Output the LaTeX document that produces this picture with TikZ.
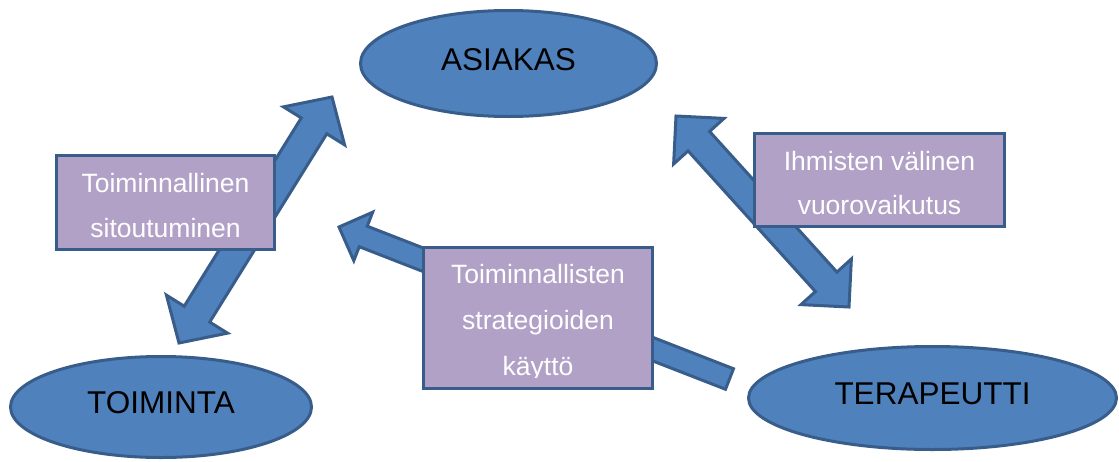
\documentclass[tikz,border=0pt]{standalone}
\usepackage{fontspec}
\setmainfont{Liberation Sans}
\usetikzlibrary{calc,shapes.geometric}
\definecolor{fillblue}{HTML}{4F81BD}
\definecolor{edgeblue}{HTML}{385D8A}
\definecolor{boxpurple}{HTML}{B2A1C7}
\tikzset{
  blockarr/.style={fill=fillblue, draw=edgeblue, line width=3pt, line join=miter},
  oval/.style={ellipse, fill=fillblue, draw=edgeblue, line width=3pt, inner sep=0pt,
    text depth=9pt, font=\fontsize{31.5}{38}\selectfont, text=black},
  labelbox/.style={rectangle, fill=boxpurple, draw=edgeblue, line width=3.5pt, inner sep=0pt},
  boxtext/.style={text=white, align=center, inner sep=0pt, anchor=north},
}
% double block arrow: #1 end A, #2 end B, #3 shaft half width, #4 head half width, #5 head length
\newcommand{\dblblock}[5]{%
  \coordinate (#1h) at ($(#1)!#5!(#2)$);
  \coordinate (#2h) at ($(#2)!#5!(#1)$);
  \filldraw[blockarr] (#1) -- ($(#1h)!#4!90:(#2)$) -- ($(#1h)!#3!90:(#2)$)
    -- ($(#2h)!#3!-90:(#1)$) -- ($(#2h)!#4!-90:(#1)$) -- (#2)
    -- ($(#2h)!#4!90:(#1)$) -- ($(#2h)!#3!90:(#1)$)
    -- ($(#1h)!#3!-90:(#2)$) -- ($(#1h)!#4!-90:(#2)$) -- cycle;
}
% single block arrow: #1 tip, #2 tail, #3 shaft half width, #4 head half width, #5 head length
\newcommand{\oneblock}[5]{%
  \coordinate (#1h) at ($(#1)!#5!(#2)$);
  \filldraw[blockarr] (#1) -- ($(#1h)!#4!90:(#2)$) -- ($(#1h)!#3!90:(#2)$)
    -- ($(#2)!#3!-90:(#1)$) -- ($(#2)!#3!90:(#1)$)
    -- ($(#1h)!#3!-90:(#2)$) -- ($(#1h)!#4!-90:(#2)$) -- cycle;
}
\begin{document}
\begin{tikzpicture}[x=1pt, y=-1pt]
\useasboundingbox (0,0) rectangle (1119,461);
% arrow end points
\coordinate (la) at (332,97);
\coordinate (lb) at (179,343);
\coordinate (ra) at (676,116);
\coordinate (rb) at (849,307);
\coordinate (ma) at (339,227);
\coordinate (mb) at (729.5,379);
\dblblock{la}{lb}{15pt}{36pt}{34pt}
\dblblock{ra}{rb}{14.5pt}{34pt}{34pt}
\oneblock{ma}{mb}{11pt}{26pt}{26pt}
% ellipses
\node[oval, minimum width=296pt, minimum height=106pt] (asiakas) at (508.5,63.5) {ASIAKAS};
\node[oval, minimum width=301pt, minimum height=101pt] (toiminta) at (161,407) {TOIMINTA};
\node[oval, minimum width=368pt, minimum height=103pt] (terapeutti) at (932.5,398) {TERAPEUTTI};
% label boxes
\node[labelbox, minimum width=218pt, minimum height=94pt] (box1) at (165.5,202.5) {};
\node[labelbox, minimum width=250pt, minimum height=93pt] (box2) at (879.5,180) {};
\node[labelbox, minimum width=229pt, minimum height=141pt] (box3) at (538,318) {};
\node[boxtext, font=\fontsize{26.5}{45}\selectfont] (t1) at (165.5,170)
  {\rule{0pt}{22pt}Toiminnallinen\\sitoutuminen};
\node[boxtext, font=\fontsize{26.5}{44}\selectfont] (t2) at (879.5,148)
  {\rule{0pt}{22pt}Ihmisten välinen\\vuorovaikutus};
\begin{scope}
  \clip (424,248) rectangle (652,377);
  \node[boxtext, font=\fontsize{26.5}{46}\selectfont] (t3) at (538,261)
    {\rule{0pt}{22pt}Toiminnallisten\\strategioiden\\käyttö};
\end{scope}
\end{tikzpicture}
\end{document}
